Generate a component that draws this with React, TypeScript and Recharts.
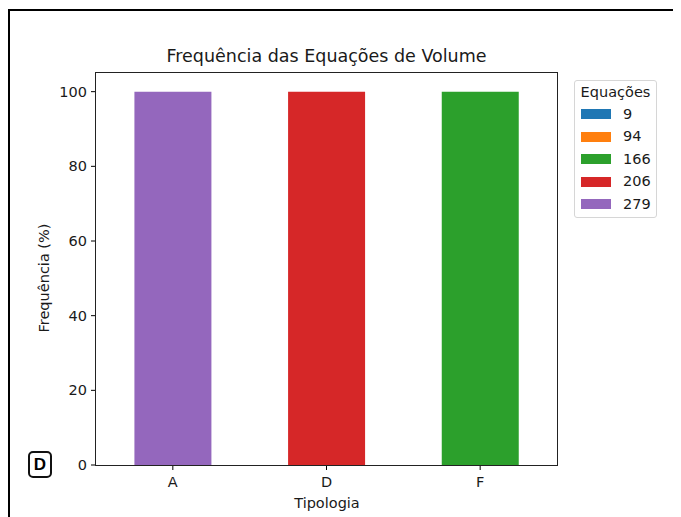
import { BarChart, Bar, XAxis, YAxis } from 'recharts'

const categories = ['A', 'D', 'F']
const seriesKeys = ['9', '94', '166', '206', '279']
const seriesColors = ['#1f77b4', '#ff7f0e', '#2ca02c', '#d62728', '#9467bd']
// frequência (%) de cada equação por tipologia
const eq9 = [0, 0, 0]
const eq94 = [0, 0, 0]
const eq166 = [0, 0, 100]
const eq206 = [0, 100, 0]
const eq279 = [100, 0, 0]
const yTicks = [0, 20, 40, 60, 80, 100]

const seriesValues = [eq9, eq94, eq166, eq206, eq279]

const data = categories.map((cat, i) => {
  const row: any = { tipologia: cat }
  seriesKeys.forEach((k, j) => { row[k] = seriesValues[j][i] })
  return row
})

const FONT = '"DejaVu Sans", sans-serif'
const TXT = '#1a1a1a'
const FS = 14.5

function LegendBox() {
  return (
    <div style={{
      position: 'absolute', left: 566, top: 72, width: 83, height: 138,
      border: '1px solid #d6d6d6', borderRadius: 3, boxSizing: 'border-box',
      fontFamily: FONT, fontSize: FS, color: TXT, background: '#fff',
    }}>
      <div style={{ textAlign: 'center', marginTop: 3, marginBottom: 2, lineHeight: '17px' }}>Equações</div>
      {seriesKeys.map((k, i) => (
        <div key={k} style={{ display: 'flex', alignItems: 'center', height: 22.5 }}>
          <span style={{ display: 'inline-block', width: 30, height: 10, background: seriesColors[i], marginLeft: 6 }} />
          <span style={{ marginLeft: 12, lineHeight: '17px' }}>{k}</span>
        </div>
      ))}
    </div>
  )
}

export default function App() {
  return (
    <div style={{
      position: 'relative', width: 673, height: 509, overflow: 'hidden',
      background: '#fff', fontFamily: FONT,
    }}>
      <div style={{
        position: 'absolute', left: 0, top: 1, width: 700, height: 600,
        borderTop: '2px solid #000', borderLeft: '2px solid #000',
      }} />

      <div style={{
        position: 'absolute', left: 88, top: 38, width: 461, textAlign: 'center',
        fontSize: 17.5, lineHeight: '21px', color: TXT,
      }}>
        Frequência das Equações de Volume
      </div>

      <BarChart
        width={673}
        height={509}
        data={data}
        margin={{ top: 65, right: 124, left: 28, bottom: 22 }}
        barCategoryGap="25%"
        style={{ position: 'absolute', left: 0, top: 0 }}
      >
        <XAxis
          dataKey="tipologia"
          height={30}
          tick={{ fill: TXT, fontSize: FS, fontFamily: FONT }}
          tickSize={5}
          tickMargin={7}
          axisLine={false}
          tickLine={{ stroke: '#000' }}
        />
        <YAxis
          width={60}
          domain={[0, 105]}
          ticks={yTicks}
          tick={{ fill: TXT, fontSize: FS, fontFamily: FONT }}
          tickSize={5}
          tickMargin={4}
          axisLine={false}
          tickLine={{ stroke: '#000' }}
        />
        {seriesKeys.map((k, i) => (
          <Bar key={k} dataKey={k} stackId="a" fill={seriesColors[i]} isAnimationActive={false} />
        ))}
      </BarChart>

      {/* moldura dos eixos (4 lados) */}
      <div style={{
        position: 'absolute', left: 87, top: 64, width: 463, height: 394,
        border: '1px solid #222', boxSizing: 'border-box', pointerEvents: 'none',
      }} />

      <div style={{
        position: 'absolute', left: 36, top: 270,
        transform: 'translate(-50%, -50%) rotate(-90deg)',
        whiteSpace: 'nowrap', fontSize: FS, color: TXT,
      }}>
        Frequência (%)
      </div>

      <div style={{
        position: 'absolute', left: 319, top: 495,
        transform: 'translate(-50%, -50%)', fontSize: FS, color: TXT,
      }}>
        Tipologia
      </div>

      <LegendBox />

      <div style={{
        position: 'absolute', left: 20, top: 443, width: 24, height: 27,
        border: '2px solid #111', borderRadius: 5, boxSizing: 'border-box',
        display: 'flex', alignItems: 'center', justifyContent: 'center',
        fontFamily: '"Liberation Sans", Arial, sans-serif', fontWeight: 700, fontSize: 17, color: '#000',
      }}>
        D
      </div>
    </div>
  )
}
